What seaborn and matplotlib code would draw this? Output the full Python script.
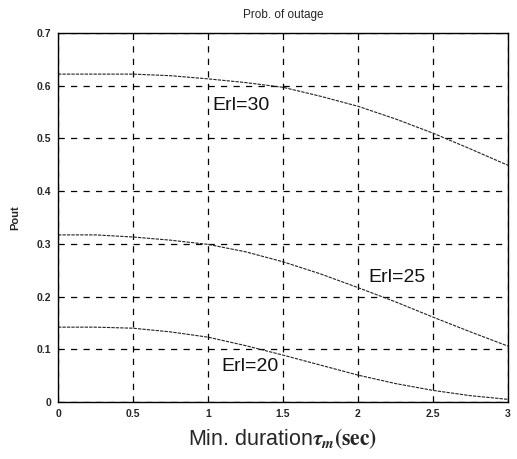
import matplotlib
matplotlib.use("Agg")
import matplotlib.pyplot as plt
import seaborn as sns
import pandas as pd

# ---- data ----
tau = [0, 0.25, 0.5, 0.75, 1, 1.25, 1.5, 1.75, 2, 2.25, 2.5, 2.75, 3]
erl30 = [0.622, 0.622, 0.622, 0.619, 0.613, 0.606, 0.597, 0.580, 0.561, 0.537, 0.510, 0.480, 0.449]
erl25 = [0.317, 0.317, 0.313, 0.307, 0.299, 0.285, 0.266, 0.243, 0.217, 0.190, 0.161, 0.133, 0.106]
erl20 = [0.142, 0.142, 0.140, 0.133, 0.123, 0.107, 0.089, 0.070, 0.051, 0.035, 0.022, 0.012, 0.005]
series_names = ["Erl=30", "Erl=25", "Erl=20"]
label_x = [1.03, 2.07, 1.09]
label_y = [0.563, 0.237, 0.068]
xticks = [0, 0.5, 1, 1.5, 2, 2.5, 3]
xtick_labels = ["0", "0.5", "1", "1.5", "2", "2.5", "3"]
yticks = [0, 0.1, 0.2, 0.3, 0.4, 0.5, 0.6, 0.7]
ytick_labels = ["0", "0.1", "0.2", "0.3", "0.4", "0.5", "0.6", "0.7"]

df = pd.concat([
    pd.DataFrame({"tau": tau, "Pout": vals, "series": name})
    for name, vals in zip(series_names, [erl30, erl25, erl20])
])

sns.set_style("white")
plt.rcParams["font.family"] = ["Liberation Sans", "DejaVu Sans"]
plt.rcParams["mathtext.fontset"] = "stix"

fig = plt.figure(figsize=(5.17, 4.59), dpi=100)
ax = fig.add_axes([58 / 517, 1 - 402 / 459, 450 / 517, 369 / 459])

sns.lineplot(data=df, x="tau", y="Pout", hue="series",
             palette=["#222222"] * 3, linewidth=0.8, ax=ax, legend=False,
             dashes=False)
for line in ax.get_lines():
    line.set_linestyle((0, (3, 1)))

ax.set_xlim(0, 3)
ax.set_ylim(0, 0.7)
ax.set_xticks(xticks)
ax.set_xticklabels(xtick_labels, fontsize=7.5, fontweight="bold")
ax.set_yticks(yticks)
ax.set_yticklabels(ytick_labels, fontsize=7.5, fontweight="bold")
ax.tick_params(direction="in", length=3, width=0.8, color="black", pad=5)

ax.grid(True, color="black", linestyle=(0, (5, 5)), linewidth=0.9)
for s in ax.spines.values():
    s.set_visible(True)
    s.set_color("black")
    s.set_linewidth(1.0)

ax.set_title("Prob. of outage", fontsize=8.5, pad=11)
ax.set_ylabel("Pout", fontsize=8, fontweight="bold", labelpad=12)
ax.set_xlabel(r"Min. duration$\mathbfit{\tau_m}\mathbf{(sec)}$", fontsize=15.5, labelpad=5)

for name, lx, ly in zip(series_names, label_x, label_y):
    ax.text(lx, ly, name, fontsize=14, ha="left", va="center", color="#111111")

fig.savefig("out.png", dpi=100)
